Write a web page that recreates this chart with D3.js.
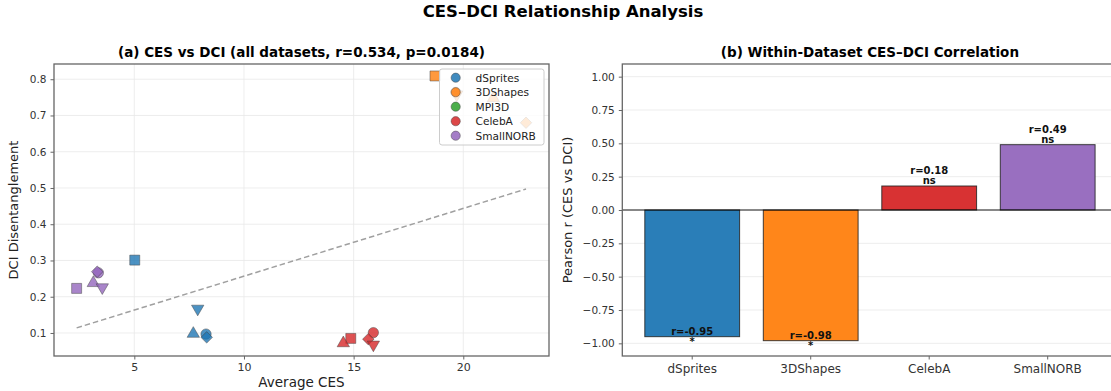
<!DOCTYPE html>
<html>
<head>
<meta charset="utf-8">
<script src="https://cdn.jsdelivr.net/npm/d3@7"></script>
<style>
  html, body { margin: 0; padding: 0; background: #fff; }
  svg { display: block; font-family: "DejaVu Sans", sans-serif; }
</style>
</head>
<body>
<svg id="chart" width="1111" height="391"></svg>
<script>
// ---- data ----
const datasets = ["dSprites", "3DShapes", "MPI3D", "CelebA", "SmallNORB"];
const datasetColors = ["#1f77b4", "#ff7f0e", "#2ca02c", "#d62728", "#9467bd"];
// one marker per model variant: circle, square, triangle-up, diamond, triangle-down
const markerShapes = ["o", "s", "^", "D", "v"];

const cesDSprites  = [8.27, 5.02, 7.69, 8.30, 7.89];
const dciDSprites  = [0.097, 0.301, 0.102, 0.088, 0.171];
const ces3DShapes  = [19.66, 18.71, 21.37, 22.86, 19.70];
const dci3DShapes  = [0.764, 0.809, 0.752, 0.680, 0.762];
const cesMPI3D     = [];
const dciMPI3D     = [];
const cesCelebA    = [15.90, 14.87, 14.53, 15.67, 15.90];
const dciCelebA    = [0.101, 0.085, 0.076, 0.083, 0.072];
const cesSmallNORB = [3.36, 2.37, 3.13, 3.31, 3.54];
const dciSmallNORB = [0.266, 0.223, 0.242, 0.269, 0.230];

// pooled linear fit: DCI = slope * CES + intercept
const trendSlope = 0.0187;
const trendIntercept = 0.0697;
const pooledR = 0.534;
const pooledP = 0.0184;

const corrDatasets = ["dSprites", "3DShapes", "CelebA", "SmallNORB"];
const corrValues   = [-0.95, -0.98, 0.18, 0.49];
const corrSignif   = ["*", "*", "ns", "ns"];
const corrColors   = ["#1f77b4", "#ff7f0e", "#d62728", "#9467bd"];

const scatterXTicks = [5, 10, 15, 20];
const scatterYTicks = [0.1, 0.2, 0.3, 0.4, 0.5, 0.6, 0.7, 0.8];
const barYTicks = [-1.0, -0.75, -0.5, -0.25, 0.0, 0.25, 0.5, 0.75, 1.0];

const scatterSeries = [
  { name: "dSprites",  ces: cesDSprites,  dci: dciDSprites },
  { name: "3DShapes",  ces: ces3DShapes,  dci: dci3DShapes },
  { name: "MPI3D",     ces: cesMPI3D,     dci: dciMPI3D },
  { name: "CelebA",    ces: cesCelebA,    dci: dciCelebA },
  { name: "SmallNORB", ces: cesSmallNORB, dci: dciSmallNORB }
];

// ---- setup ----
const svg = d3.select("#chart");
const tickColor = "#333";
const spineColor = "#666";
const gridColor = "#e8e8e8";

svg.append("text")
  .attr("x", 563).attr("y", 17)
  .attr("text-anchor", "middle")
  .attr("font-size", 16.5).attr("font-weight", "bold")
  .text("CES\u2013DCI Relationship Analysis");

function drawFrame(g, x0, x1, y0, y1) {
  g.append("rect")
    .attr("x", x0).attr("y", y0)
    .attr("width", x1 - x0).attr("height", y1 - y0)
    .attr("fill", "none").attr("stroke", spineColor).attr("stroke-width", 1.3);
}

function styleAxis(ax, size) {
  ax.select(".domain").remove();
  ax.selectAll("line").attr("stroke", spineColor);
  ax.selectAll("text").attr("fill", tickColor).attr("font-size", size)
    .attr("font-family", "DejaVu Sans, sans-serif");
}

// ---- panel (a): scatter ----
const A = { left: 54, right: 549, top: 64, bottom: 356 };
const xA = d3.scaleLinear().domain([1.338, 23.908]).range([A.left, A.right]);
const yA = d3.scaleLinear().domain([0.0365, 0.842]).range([A.bottom, A.top]);

const gA = svg.append("g");
gA.append("g").selectAll("line").data(scatterXTicks).join("line")
  .attr("x1", d => xA(d)).attr("x2", d => xA(d))
  .attr("y1", A.top).attr("y2", A.bottom)
  .attr("stroke", gridColor).attr("stroke-width", 0.8);
gA.append("g").selectAll("line").data(scatterYTicks).join("line")
  .attr("x1", A.left).attr("x2", A.right)
  .attr("y1", d => yA(d)).attr("y2", d => yA(d))
  .attr("stroke", gridColor).attr("stroke-width", 0.8);

const axisXA = gA.append("g").attr("transform", `translate(0,${A.bottom})`)
  .call(d3.axisBottom(xA).tickValues(scatterXTicks).tickSize(3.5).tickPadding(4).tickFormat(d3.format("d")));
const axisYA = gA.append("g").attr("transform", `translate(${A.left},0)`)
  .call(d3.axisLeft(yA).tickValues(scatterYTicks).tickSize(3.5).tickPadding(4).tickFormat(d3.format(".1f")));
styleAxis(axisXA, 11);
styleAxis(axisYA, 10.5);

// trend line across observed CES range
const allCes = [].concat(...scatterSeries.map(s => s.ces));
const ext = d3.extent(allCes);
gA.append("line")
  .attr("x1", xA(ext[0])).attr("y1", yA(trendSlope * ext[0] + trendIntercept))
  .attr("x2", xA(ext[1])).attr("y2", yA(trendSlope * ext[1] + trendIntercept))
  .attr("stroke", "#a0a0a0").attr("stroke-width", 1.5)
  .attr("stroke-dasharray", "5.5,3");

function markerPath(shape) {
  switch (shape) {
    case "o": return d3.symbol(d3.symbolCircle, 84)();
    case "s": return d3.symbol(d3.symbolSquare, 100)();
    case "^": return d3.symbol(d3.symbolTriangle, 66)();
    case "v": return d3.symbol(d3.symbolTriangle, 66)();
    case "D": return d3.symbol(d3.symbolSquare, 66)();
  }
}
function markerRotate(shape) {
  return shape === "v" ? 180 : (shape === "D" ? 45 : 0);
}

scatterSeries.forEach((s, si) => {
  const pts = s.ces.map((c, i) => ({ x: c, y: s.dci[i], shape: markerShapes[i] }));
  gA.append("g").selectAll("path").data(pts).join("path")
    .attr("d", d => markerPath(d.shape))
    .attr("transform", d => {
      const dy = (d.shape === "^" || d.shape === "v") ? 1.5 : 0;
      return `translate(${xA(d.x)},${yA(d.y) + dy}) rotate(${markerRotate(d.shape)})`;
    })
    .attr("fill", datasetColors[si]).attr("fill-opacity", 0.8)
    .attr("stroke", "#444").attr("stroke-opacity", 0.6).attr("stroke-width", 0.8);
});

drawFrame(gA, A.left, A.right, A.top, A.bottom);

// legend
const leg = gA.append("g");
leg.append("rect")
  .attr("x", 439.5).attr("y", 69).attr("width", 104.5).attr("height", 76)
  .attr("rx", 2.5)
  .attr("fill", "#fff").attr("fill-opacity", 0.8)
  .attr("stroke", "#ccc").attr("stroke-width", 1);
datasets.forEach((name, i) => {
  const cy = 77.7 + i * 14.5;
  leg.append("circle").attr("cx", 455.7).attr("cy", cy).attr("r", 4.6)
    .attr("fill", datasetColors[i]).attr("fill-opacity", 0.85)
    .attr("stroke", "#444").attr("stroke-opacity", 0.6).attr("stroke-width", 0.8);
  leg.append("text").attr("x", 475.5).attr("y", cy + 3.8)
    .attr("font-size", 10.6).attr("fill", "#222").text(name);
});

gA.append("text")
  .attr("x", (A.left + A.right) / 2).attr("y", 57)
  .attr("text-anchor", "middle").attr("font-size", 13.5).attr("font-weight", "bold")
  .text(`(a) CES vs DCI (all datasets, r=${pooledR.toFixed(3)}, p=${pooledP})`);
gA.append("text")
  .attr("x", (A.left + A.right) / 2).attr("y", 387)
  .attr("text-anchor", "middle").attr("font-size", 13.5).attr("fill", "#222")
  .text("Average CES");
gA.append("text")
  .attr("transform", `translate(18,${(A.top + A.bottom) / 2}) rotate(-90)`)
  .attr("text-anchor", "middle").attr("font-size", 13).attr("fill", "#222")
  .text("DCI Disentanglement");

// ---- panel (b): bar chart ----
const B = { left: 622.3, right: 1117.6, top: 64, bottom: 356 };
const xB = d3.scaleBand().domain(corrDatasets).range([B.left, B.right])
  .paddingInner(0.2).paddingOuter(0.19);
const yB = d3.scaleLinear().domain([-1.095, 1.095]).range([B.bottom, B.top]);

const gB = svg.append("g");
gB.append("g").selectAll("line").data(barYTicks).join("line")
  .attr("x1", B.left).attr("x2", B.right)
  .attr("y1", d => yB(d)).attr("y2", d => yB(d))
  .attr("stroke", gridColor).attr("stroke-width", 0.8);

const bars = corrDatasets.map((name, i) => ({ name, r: corrValues[i], sig: corrSignif[i], color: corrColors[i] }));
gB.append("g").selectAll("rect").data(bars).join("rect")
  .attr("x", d => xB(d.name)).attr("width", xB.bandwidth())
  .attr("y", d => yB(Math.max(0, d.r)))
  .attr("height", d => Math.abs(yB(d.r) - yB(0)))
  .attr("fill", d => d.color).attr("fill-opacity", 0.95)
  .attr("stroke", "#222").attr("stroke-opacity", 0.85).attr("stroke-width", 1);

gB.append("line")
  .attr("x1", B.left).attr("x2", B.right)
  .attr("y1", yB(0)).attr("y2", yB(0))
  .attr("stroke", "#000").attr("stroke-width", 0.9);

const labels = gB.append("g").selectAll("text").data(bars).join("text")
  .attr("text-anchor", "middle").attr("font-size", 10).attr("font-weight", "bold")
  .attr("fill", "#111");
labels.append("tspan")
  .attr("x", d => xB(d.name) + xB.bandwidth() / 2)
  .attr("y", d => yB(d.r >= 0 ? d.r + 0.012 : d.r - 0.06) - 10)
  .text(d => `r=${d.r.toFixed(2)}`);
labels.append("tspan")
  .attr("x", d => xB(d.name) + xB.bandwidth() / 2)
  .attr("y", d => yB(d.r >= 0 ? d.r + 0.012 : d.r - 0.06))
  .text(d => d.sig);

const axisXB = gB.append("g").attr("transform", `translate(0,${B.bottom})`)
  .call(d3.axisBottom(xB).tickSize(3.5).tickPadding(5));
const axisYB = gB.append("g").attr("transform", `translate(${B.left},0)`)
  .call(d3.axisLeft(yB).tickValues(barYTicks).tickSize(3.5).tickPadding(4)
    .tickFormat(d => d3.format(".2f")(d).replace("-", "\u2212")));
styleAxis(axisXB, 12);
styleAxis(axisYB, 10.5);

drawFrame(gB, B.left, B.right, B.top, B.bottom);

gB.append("text")
  .attr("x", (B.left + B.right) / 2).attr("y", 57)
  .attr("text-anchor", "middle").attr("font-size", 13.5).attr("font-weight", "bold")
  .text("(b) Within-Dataset CES\u2013DCI Correlation");
gB.append("text")
  .attr("transform", `translate(572,${(B.top + B.bottom) / 2}) rotate(-90)`)
  .attr("text-anchor", "middle").attr("font-size", 13).attr("fill", "#222")
  .text("Pearson r (CES vs DCI)");
</script>
</body>
</html>
